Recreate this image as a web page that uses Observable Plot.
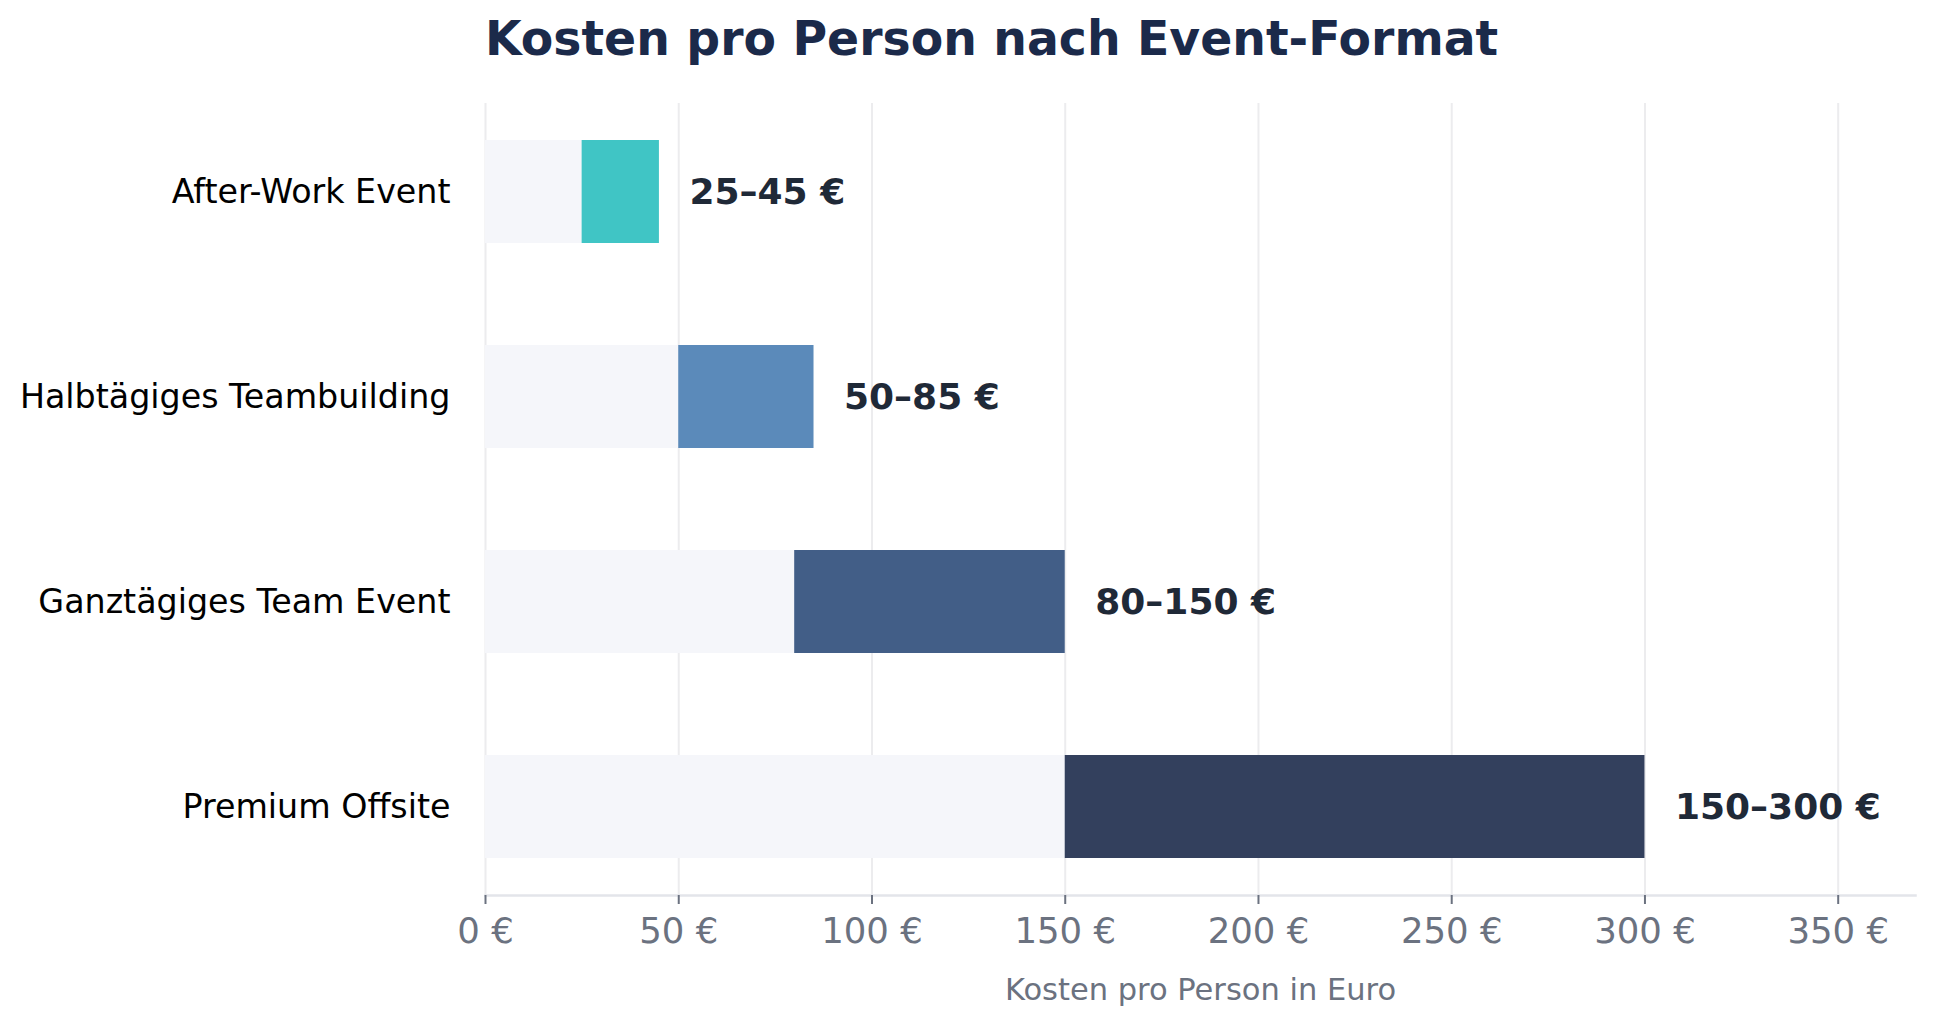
<!DOCTYPE html>
<html>
<head>
<meta charset="utf-8">
<script src="https://cdn.jsdelivr.net/npm/d3@7"></script>
<script src="https://cdn.jsdelivr.net/npm/@observablehq/plot@0.6"></script>
<style>
  html, body { margin: 0; padding: 0; background: #ffffff; }
  #wrap { width: 1933px; height: 1025px; position: relative; overflow: hidden; font-family: "DejaVu Sans", sans-serif; }
  #title { position: relative; height: 80px; }
  #title span { position: absolute; left: 485px; top: 15px; font-size: 47.3px; line-height: 47px; font-weight: bold; color: #1b2a4a; white-space: nowrap; }
</style>
</head>
<body>
<div id="wrap">
  <div id="title"><span>Kosten pro Person nach Event-Format</span></div>
  <div id="chart"></div>
</div>
<script>
const categories = ["After-Work Event", "Halbtägiges Teambuilding", "Ganztägiges Team Event", "Premium Offsite"];
const minCost = [25, 50, 80, 150];
const maxCost = [45, 85, 150, 300];
const xTicks = [0, 50, 100, 150, 200, 250, 300, 350];
const palette = ["#40c5c5", "#5b8aba", "#425e87", "#33405d"];
const xLabel = "Kosten pro Person in Euro";

const data = categories.map((name, i) => ({name, min: minCost[i], max: maxCost[i], color: palette[i]}));

const chart = Plot.plot({
  width: 1933,
  height: 945,
  marginTop: 23,
  marginBottom: 130,
  marginLeft: 485,
  marginRight: 18,
  style: {fontFamily: "DejaVu Sans", background: "white", overflow: "visible"},
  x: {domain: [0, 370], axis: null},
  y: {domain: categories, paddingInner: 0.5, paddingOuter: 0.175, axis: null},
  color: {type: "identity"},
  marks: [
    Plot.gridX(xTicks, {stroke: "#ececee", strokeOpacity: 1, strokeWidth: 2}),
    Plot.barX(data, {x1: 0, x2: "min", y: "name", fill: "#f5f6fa"}),
    Plot.barX(data, {x1: "min", x2: "max", y: "name", fill: "color"}),
    Plot.frame({anchor: "bottom", stroke: "#e3e5ea", strokeWidth: 2.5}),
    Plot.axisX({ticks: xTicks, tickFormat: d => `${d} €`, tickSize: 9, tickPadding: 13, fontSize: 35.5, color: "#6b7280", strokeWidth: 2, label: null}),
    Plot.axisY({tickSize: 0, tickPadding: 35, fontSize: 33.3, color: "#000000", label: null}),
    Plot.text(data, {x: "max", y: "name", text: d => `${d.min}–${d.max} €`, dx: 30, textAnchor: "start", fontWeight: "bold", fontSize: 36, fill: "#1f2937"}),
    Plot.text([xLabel], {frameAnchor: "bottom", dy: 104, fontSize: 30.5, fill: "#6b7280"})
  ]
});
document.getElementById("chart").appendChild(chart);
</script>
</body>
</html>
